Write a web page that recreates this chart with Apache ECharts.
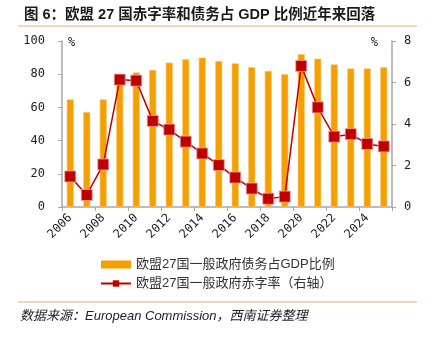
<!DOCTYPE html>
<html>
<head>
<meta charset="utf-8">
<script src="https://cdn.jsdelivr.net/npm/echarts@6/dist/echarts.min.js"></script>
<style>
  html, body { margin: 0; padding: 0; background: #fff; }
  #chart { width: 434px; height: 340px; }
</style>
</head>
<body>
<div id="chart"></div>
<script>
// EU27 general government debt (% of GDP) and deficit (% of GDP, right axis)
const years = ['2006','2007','2008','2009','2010','2011','2012','2013','2014','2015',
               '2016','2017','2018','2019','2020','2021','2022','2023','2024','2025'];
const debtRatio = [64.8, 57.2, 64.8, 75.0, 81.0, 82.6, 87.0, 89.0, 90.0, 88.0,
                   86.5, 84.2, 82.0, 80.0, 92.1, 89.3, 85.9, 83.4, 83.4, 84.2];
const deficitRatio = [1.47, 0.58, 2.05, 6.14, 6.09, 4.15, 3.73, 3.15, 2.58, 2.02,
                      1.42, 0.89, 0.40, 0.50, 6.80, 4.80, 3.39, 3.51, 3.04, 2.92];
const leftTicks = { min: 0, max: 100, interval: 20 };
const rightTicks = { min: 0, max: 8, interval: 2 };

const titleText = '图 6：欧盟 27 国赤字率和债务占 GDP 比例近年来回落';
const sourceText = '数据来源：European Commission，西南证券整理';
const debtName = '欧盟27国一般政府债务占GDP比例';
const deficitName = '欧盟27国一般政府赤字率（右轴）';

const axisGray = '#A6A6A6';
const numFont = '"DejaVu Sans Mono", monospace';
const mixedFont = '"Liberation Sans", "Noto Sans CJK SC", sans-serif';

const chart = echarts.init(document.getElementById('chart'), null, { renderer: 'canvas' });

chart.setOption({
  animation: false,
  backgroundColor: '#fff',
  title: {
    text: titleText,
    left: 19,
    top: 3,
    textStyle: { fontFamily: mixedFont, fontSize: 14.5, fontWeight: 'bold', color: '#1a1a1a' }
  },
  graphic: [
    { type: 'line', shape: { x1: 18, y1: 26, x2: 417, y2: 26 },
      style: { stroke: '#E6B26A', lineWidth: 1 } },
    { type: 'line', shape: { x1: 18, y1: 302, x2: 417, y2: 302 },
      style: { stroke: '#D9AE6E', lineWidth: 1 } },
    { type: 'text', left: 20, top: 310,
      style: { text: sourceText, font: 'italic 13px ' + mixedFont, fill: '#222' } }
  ],
  legend: {
    orient: 'vertical',
    left: 95,
    top: 253,
    itemWidth: 30,
    itemHeight: 8,
    itemGap: 6,
    textStyle: { fontFamily: mixedFont, fontSize: 13, color: '#333' },
    data: [
      { name: debtName, icon: 'rect', itemStyle: { borderWidth: 0 } },
      { name: deficitName, itemStyle: { borderWidth: 0 } }
    ]
  },
  grid: { left: 62, right: 42, top: 41, bottom: 133, containLabel: false },
  xAxis: {
    type: 'category',
    data: years,
    boundaryGap: true,
    axisLine: { lineStyle: { color: axisGray, width: 1.5 } },
    axisTick: { show: true, interval: 1, length: 4, lineStyle: { color: axisGray } },
    axisLabel: {
      interval: 1, rotate: 45, fontFamily: numFont, fontSize: 12, color: '#222', margin: 9
    }
  },
  yAxis: [
    {
      type: 'value',
      min: leftTicks.min, max: leftTicks.max, interval: leftTicks.interval,
      position: 'left',
      name: '%',
      nameLocation: 'end',
      nameGap: -2,
      nameTextStyle: { fontFamily: numFont, fontSize: 12, color: '#222', align: 'left', verticalAlign: 'middle', padding: [0, 0, 0, 6] },
      axisLine: { show: true, lineStyle: { color: axisGray, width: 1.5 } },
      axisTick: { show: true, length: 4, lineStyle: { color: axisGray } },
      axisLabel: { fontFamily: numFont, fontSize: 12, color: '#222', margin: 17 },
      splitLine: { show: false }
    },
    {
      type: 'value',
      min: rightTicks.min, max: rightTicks.max, interval: rightTicks.interval,
      position: 'right',
      name: '%',
      nameLocation: 'end',
      nameGap: -2,
      nameTextStyle: { fontFamily: numFont, fontSize: 12, color: '#222', align: 'right', verticalAlign: 'middle', padding: [0, 14, 0, 0] },
      axisLine: { show: true, lineStyle: { color: axisGray, width: 1.5 } },
      axisTick: { show: true, length: 4, lineStyle: { color: axisGray } },
      axisLabel: { fontFamily: numFont, fontSize: 12, color: '#222', margin: 12 },
      splitLine: { show: false }
    }
  ],
  series: [
    {
      name: debtName,
      type: 'bar',
      yAxisIndex: 0,
      data: debtRatio,
      barWidth: 7,
      itemStyle: { color: '#F5A000', borderColor: '#F9C76A', borderWidth: 0.6 }
    },
    {
      name: deficitName,
      type: 'line',
      yAxisIndex: 1,
      data: deficitRatio,
      symbol: 'rect',
      symbolSize: 11,
      lineStyle: { color: '#C00000', width: 1.5 },
      itemStyle: { color: '#C00000', borderColor: '#E8A0A0', borderWidth: 0.8 },
      z: 3
    }
  ]
});
</script>
</body>
</html>
